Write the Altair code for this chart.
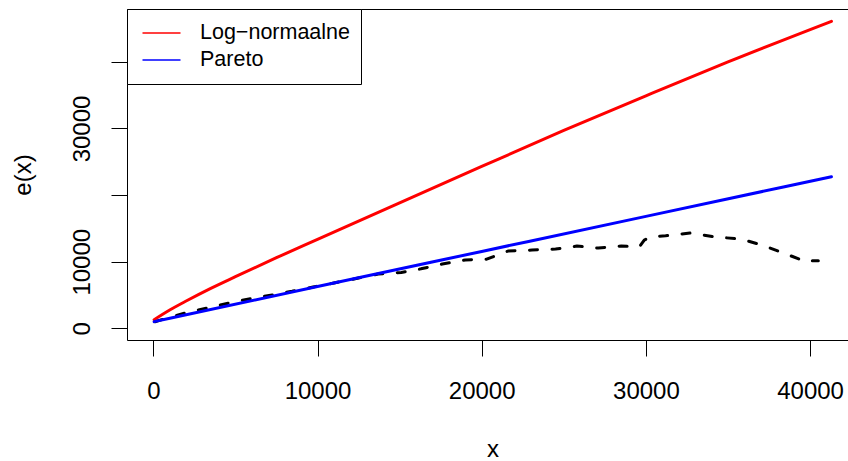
import altair as alt
import pandas as pd

FONT = "Liberation Sans"

# Fitted mean excess curves
lognorm_x = [50, 1000, 2000, 3500, 5000, 7500, 10000, 15000, 20000, 25000, 30000, 35000, 41300]
lognorm_y = [1300, 2750, 4100, 6000, 7750, 10600, 13350, 18850, 24300, 29700, 34900, 40000, 46100]

pareto_x = [50, 10000, 20000, 30000, 41300]
pareto_y = [1000, 6270, 11540, 16810, 22760]

# Empirical mean excess (dashed)
emp_x = [100, 1200, 2340, 3450, 4600, 5830, 7050, 8450, 9730, 11000, 12500, 13700,
         15100, 16300, 17600, 19000, 20300, 21600, 23060, 24500, 25800, 27100,
         28500, 29600, 29900, 30300, 31200, 32700, 34300, 35800, 37250, 38700,
         39800, 40000, 40500]
emp_y = [990, 1800, 2550, 3120, 3800, 4400, 4920, 5550, 6200, 6800, 7550, 8150,
         8380, 8930, 9650, 10250, 10380, 11600, 11750, 11900, 12350, 12050,
         12350, 12200, 13250, 13750, 13900, 14300, 13700, 13400, 12350, 11000,
         9950, 10150, 10150]

series_names = ["Log\u2212normaalne", "Pareto"]
series_colors = ["#FF0000", "#0000FF"]

x_ticks = [0, 10000, 20000, 30000, 40000]
y_ticks = [0, 10000, 20000, 30000, 40000]

X_DOMAIN = [-1602, 42308]
Y_DOMAIN = [-1757, 47943]

fit_df = pd.DataFrame({
    "x": lognorm_x + pareto_x,
    "y": lognorm_y + pareto_y,
    "model": [series_names[0]] * len(lognorm_x) + [series_names[1]] * len(pareto_x),
})
emp_df = pd.DataFrame({"x": emp_x, "y": emp_y})

x_scale = alt.Scale(domain=X_DOMAIN, nice=False, zero=False)
y_scale = alt.Scale(domain=Y_DOMAIN, nice=False, zero=False)

x_axis_bottom = alt.Axis(
    orient="bottom", values=x_ticks, format="d", grid=False,
    labelOverlap=False, labelFlush=False, labelFont=FONT, labelFontSize=24,
    labelColor="black", labelBaseline="alphabetic", labelPadding=42,
    tickSize=16, tickColor="black", tickWidth=1,
    domainColor="black", domainWidth=1,
    title="x", titleFont=FONT, titleFontSize=24, titleFontWeight="normal",
    titleColor="black", titleX=365.6, titleY=116.7, titleAlign="center",
    titleBaseline="alphabetic", titleAngle=0,
)

x_axis_top = alt.Axis(
    orient="top", labels=False, ticks=False, grid=False,
    domainColor="black", domainWidth=1, title=None,
)

y_axis = alt.Axis(
    orient="left", values=y_ticks, format="d", grid=False,
    labelExpr="(datum.value == 20000 || datum.value == 40000) ? '' : datum.label",
    labelOverlap=False, labelFlush=False, labelFont=FONT, labelFontSize=24,
    labelColor="black", labelAngle=270, labelAlign="center",
    labelBaseline="alphabetic", labelPadding=21.5,
    tickSize=16, tickColor="black", tickWidth=1,
    domainColor="black", domainWidth=1,
    title="e(x)", titleFont=FONT, titleFontSize=24, titleFontWeight="normal",
    titleColor="black", titleAngle=270, titleX=-97, titleY=165.5,
    titleAlign="center", titleBaseline="alphabetic",
)

emp_layer = alt.Chart(emp_df).mark_line(
    color="black", strokeWidth=3, strokeDash=[8, 14.5], strokeCap="round",
    strokeJoin="round",
).encode(
    x=alt.X("x:Q", scale=x_scale, axis=x_axis_bottom),
    y=alt.Y("y:Q", scale=y_scale, axis=y_axis),
)

fit_layer = alt.Chart(fit_df).mark_line(
    strokeWidth=3, strokeCap="round", strokeJoin="round", interpolate="monotone",
).encode(
    x=alt.X("x:Q", scale=x_scale, axis=x_axis_top),
    y=alt.Y("y:Q", scale=y_scale, axis=y_axis),
    color=alt.Color(
        "model:N",
        scale=alt.Scale(domain=series_names, range=series_colors),
        legend=alt.Legend(
            orient="none", legendX=0, legendY=0, title=None,
            direction="vertical",
            symbolType="stroke", symbolSize=1444, symbolStrokeWidth=1.5,
            clipHeight=27, labelFont=FONT, labelFontSize=21.5,
            labelColor="black", labelOffset=18.5, symbolOffset=4,
            padding=10.5, rowPadding=-1.5, strokeColor="black", fillColor="white",
            labelLimit=400,
        ),
    ),
    detail="model:N",
)

chart = alt.layer(emp_layer, fit_layer).resolve_axis(
    x="independent"
).properties(
    width=721,
    height=331,
    autosize=alt.AutoSizeParams(type="none"),
    padding={"left": 127, "top": 9, "right": 0, "bottom": 121},
    background="white",
).configure_view(
    stroke=None
).configure(
    font=FONT
)

chart.save("out.html", embed_options={"renderer": "svg", "actions": False})
